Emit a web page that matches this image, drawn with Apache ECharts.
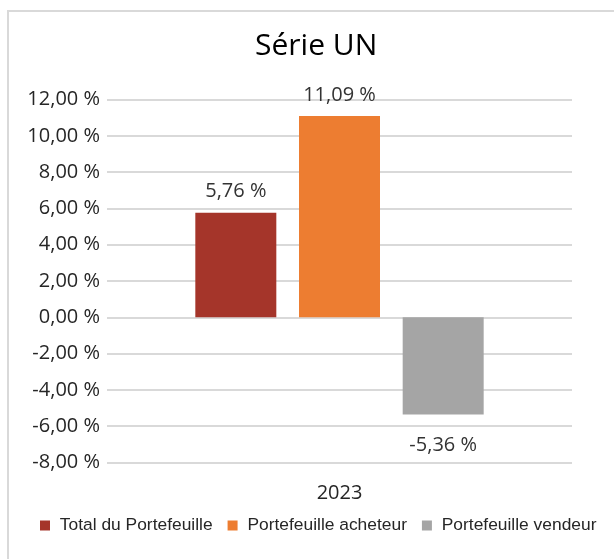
<!DOCTYPE html>
<html lang="fr">
<head>
    <meta charset="UTF-8">
    <title>Série UN</title>
    <script src="https://cdn.jsdelivr.net/npm/echarts@6/dist/echarts.min.js"></script>
    <style>
        html, body { margin: 0; padding: 0; background: #fff; }
        #main { width: 614px; height: 559px; }
    </style>
</head>
<body>
    <div id="main"></div>
    <script>
        var categories = ['2023'];
        var seriesNames = ['Total du Portefeuille', 'Portefeuille acheteur', 'Portefeuille vendeur'];
        var seriesValues = [5.76, 11.09, -5.36];
        var seriesColors = ['#A5352A', '#ED7D31', '#A5A5A5'];
        var yMin = -8, yMax = 12, yStep = 2;

        function pct(v) {
            return v.toFixed(2).replace('.', ',') + '\u00A0%';
        }

        var myChart = echarts.init(document.getElementById('main'));

        var series = [];
        for (let i = 0; i < seriesNames.length; i++) {
            const v = seriesValues[i];
            series.push({
                name: seriesNames[i],
                type: 'bar',
                barWidth: 81,
                barGap: '28%',
                itemStyle: { color: seriesColors[i] },
                label: {
                    show: true,
                    position: v < 0 ? 'bottom' : 'top',
                    distance: v < 0 ? 21 : 11,
                    fontFamily: 'Open Sans',
                    fontSize: 20,
                    color: '#333333',
                    formatter: function (p) { return pct(p.value); }
                },
                data: [v]
            });
        }

        var option = {
            animation: false,
            textStyle: { fontFamily: 'Open Sans' },
            title: {
                text: 'Série UN',
                left: 250,
                top: 26,
                textStyle: { fontFamily: 'Open Sans', fontSize: 30, fontWeight: 'normal', color: '#000' }
            },
            graphic: [{
                type: 'rect',
                shape: { x: 8, y: 11, width: 700, height: 700 },
                style: { fill: 'none', stroke: '#D9D9D9', lineWidth: 2 },
                silent: true
            }],
            legend: {
                data: seriesNames,
                bottom: 20,
                left: 35,
                icon: 'rect',
                itemWidth: 10,
                itemHeight: 10,
                itemGap: 15,
                // extra space between the square and its text, as in the original
                formatter: function (name) { return ' ' + name; },
                textStyle: { fontFamily: 'Liberation Sans', fontSize: 17.4, color: '#262626' }
            },
            grid: { left: 107, right: 42, top: 99.5, height: 363, containLabel: false },
            xAxis: {
                type: 'category',
                data: categories,
                axisLine: { show: false, onZero: false },
                axisTick: { show: false },
                axisLabel: { margin: 21, fontFamily: 'Open Sans', fontSize: 20, color: '#262626' }
            },
            yAxis: {
                type: 'value',
                min: yMin,
                max: yMax,
                interval: yStep,
                axisLine: { show: false },
                axisTick: { show: false },
                splitLine: { lineStyle: { color: '#D9D9D9', width: 2 } },
                axisLabel: {
                    margin: 7,
                    fontFamily: 'Open Sans',
                    fontSize: 20,
                    color: '#262626',
                    formatter: function (v) { return pct(v); }
                }
            },
            series: series
        };

        myChart.setOption(option);
    </script>
</body>
</html>
